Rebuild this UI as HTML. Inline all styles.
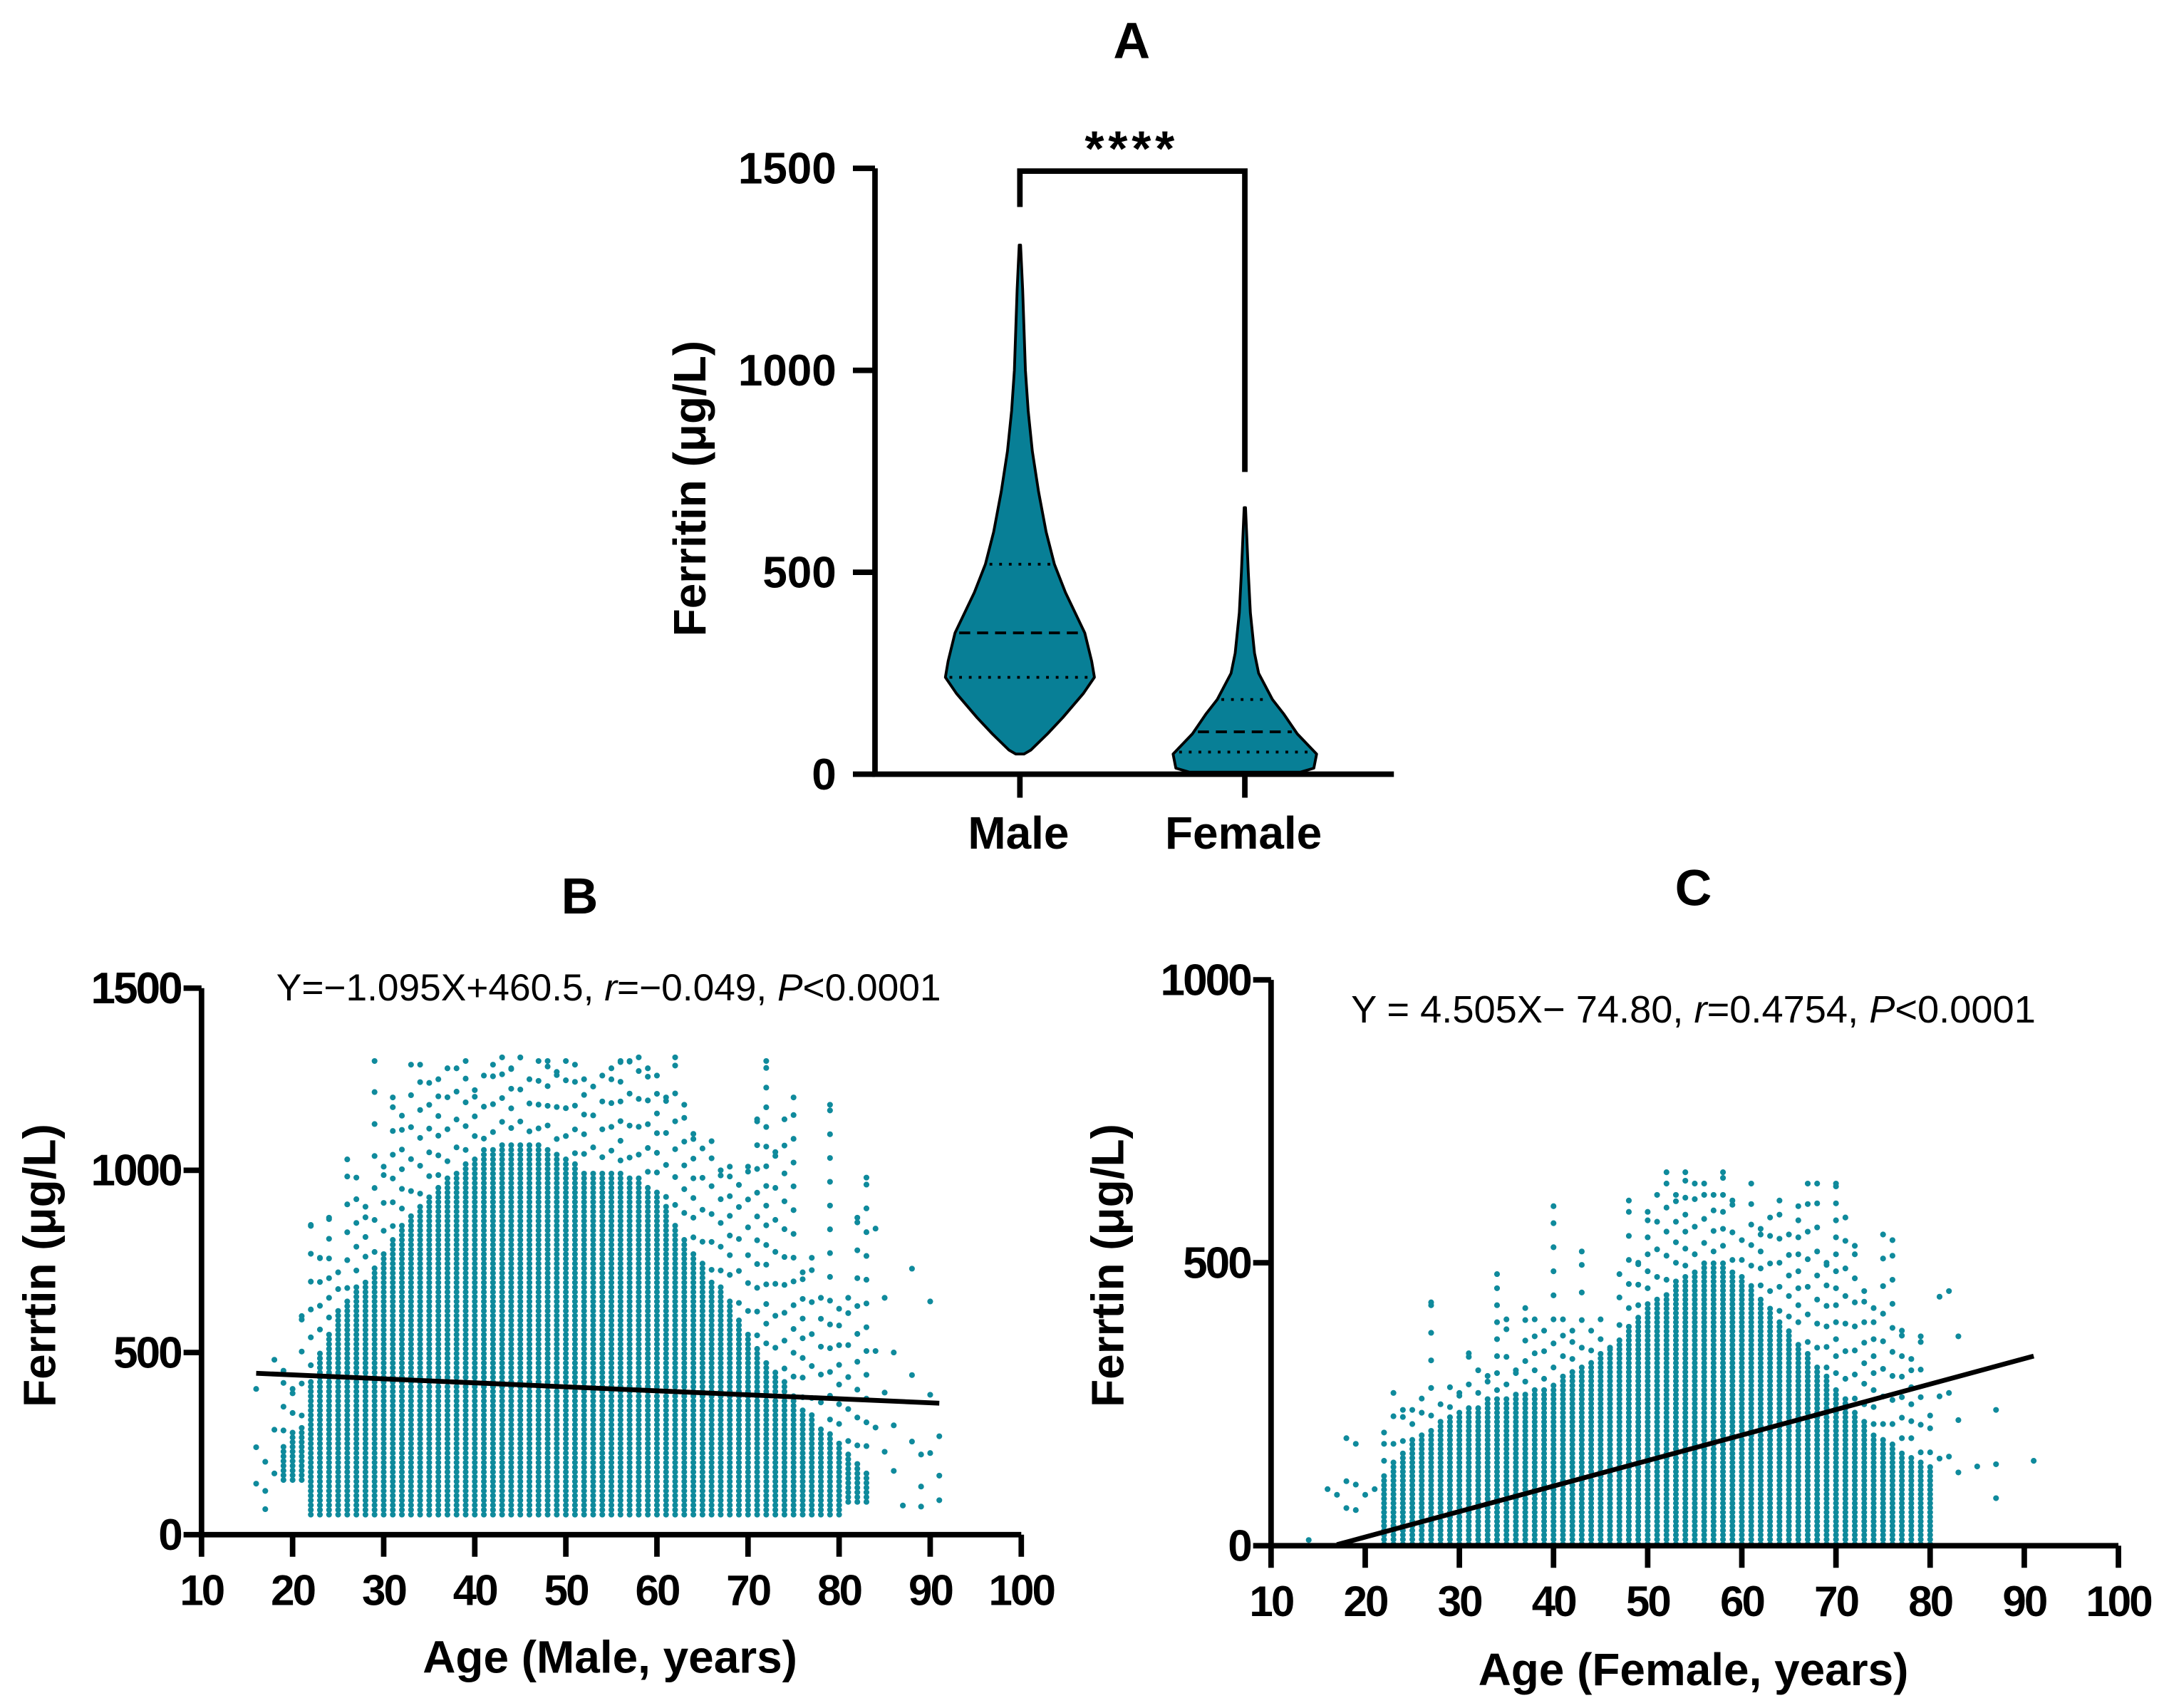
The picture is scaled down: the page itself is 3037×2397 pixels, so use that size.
<!DOCTYPE html>
<html><head><meta charset="utf-8"><style>
html,body{margin:0;padding:0;background:#fff}
svg{display:block}
text{font-family:"Liberation Sans",Arial,sans-serif}
.b{font-weight:bold}
</style></head><body>
<svg id="fig" width="3037" height="2397" viewBox="0 0 1568 1237.6">
<g id="pA"></g>
<g id="pB"></g>
<g id="pC"></g>
</svg>
<script>
// ---- Panel A data ----
const groupNames = ["Male", "Female"];
const maleLevels = [50, 60, 100, 140, 200, 240, 280, 350, 400, 450, 520, 600, 700, 800, 900, 1000, 1100, 1200, 1310];
const maleHalfW  = [3, 8, 20, 31, 46, 54, 52, 47, 40, 33, 25, 19, 13.5, 9, 6, 4, 3, 2, 0.5];
const femaleLevels = [5, 15, 50, 100, 150, 185, 250, 300, 400, 500, 660];
const femaleHalfW  = [40, 50, 52, 38, 28, 20, 10, 7, 4, 2.5, 0.5];
const maleQuart = [240, 350, 520];
const femaleQuart = [55, 105, 185];
const aTicks = [0, 500, 1000, 1500];
// ---- Panel B data (male) ----
const maleAges = [16,17,18,19,20,21,22,23,24,25,26,27,28,29,30,31,32,33,34,35,36,37,38,39,40,41,42,43,44,45,46,47,48,49,50,51,52,53,54,55,56,57,58,59,60,61,62,63,64,65,66,67,68,69,70,71,72,73,74,75,76,77,78,79,80,81,82,83,84,85,86,87,88,89,90,91];
const maleDenseHi = [0,0,0,250,280,300,420,500,560,620,650,680,700,740,780,820,850,880,900,930,960,980,1000,1020,1040,1060,1060,1070,1080,1080,1080,1070,1060,1050,1040,1020,1000,1000,1000,1000,1000,990,980,960,940,900,860,820,780,750,700,680,650,600,560,520,480,450,420,380,350,330,300,280,250,230,200,180,0,0,0,0,0,0,0,0];
const maleMax = [400,200,480,450,400,600,850,760,870,720,1030,980,900,1300,1010,1200,1150,1290,1290,1240,1250,1280,1280,1300,1220,1260,1290,1310,1280,1310,1250,1300,1300,1270,1300,1290,1250,1230,1260,1280,1300,1300,1310,1280,1260,1200,1310,1180,1100,1060,1080,1000,1010,960,1010,1140,1300,1050,1140,1200,720,760,650,1180,620,650,870,980,840,650,500,80,730,220,640,270];
const maleLoDefault = 55;
const maleFit = {slope: -1.095, intercept: 460.5, x0: 16, x1: 91};
const bYTicks = [0, 500, 1000, 1500];
const xTicks = [10,20,30,40,50,60,70,80,90,100];
// ---- Panel C data (female) ----
const femAges = [14,15,16,17,18,19,20,21,22,23,24,25,26,27,28,29,30,31,32,33,34,35,36,37,38,39,40,41,42,43,44,45,46,47,48,49,50,51,52,53,54,55,56,57,58,59,60,61,62,63,64,65,66,67,68,69,70,71,72,73,74,75,76,77,78,79,80,81,82,83,84,85,86,87,88,89,90,91];
const femDenseHi = [0,0,0,0,0,0,0,0,130,150,170,190,200,210,220,230,240,250,250,260,260,260,270,270,280,280,290,300,310,320,330,340,350,370,390,410,430,440,450,470,480,490,500,500,500,490,480,460,440,420,400,380,360,340,320,300,280,260,240,220,200,190,180,170,160,150,140,0,0,0,0,0,0,0,0,0,0,0];
const femMax = [10,0,100,90,190,180,90,100,200,270,240,240,260,430,250,280,270,340,310,300,480,400,310,420,400,380,600,400,380,520,380,400,350,480,610,500,590,620,660,620,660,640,640,620,660,610,540,640,560,580,610,550,600,640,640,500,640,580,530,450,420,550,540,380,330,370,230,440,450,370,0,140,0,240,0,0,0,150];
const femFit = {slope: 4.505, intercept: -74.8, x0: 17, x1: 91};
const cYTicks = [0, 500, 1000];

const NS = "http://www.w3.org/2000/svg";
function mk(parent, tag, attrs, txt){
  const e = document.createElementNS(NS, tag);
  for (const k in attrs) e.setAttribute(k, attrs[k]);
  if (txt !== undefined) e.textContent = txt;
  parent.appendChild(e); return e;
}
const TEAL = "#0f8a9c", VIOL = "#087f96";

// ---------- Panel A ----------
(function(){
  const g = document.getElementById("pA");
  const ax0 = 634, ax1 = 1010, y0 = 561, y1 = 122;
  const ya = v => y0 - v * (y0 - y1) / 1500;
  const xs = [739, 902];
  let t = mk(g, "text", {x: 820, y: 42, "text-anchor": "middle", "font-size": 37, class: "b"}, "A");
   
  t = mk(g, "text", {x: 820, y: 120, "text-anchor": "middle", "font-size": 36, class: "b", "letter-spacing": "3"}, "****");
   
  let br = mk(g, "path", {d: `M${xs[0]} 150 V124 H${xs[1]} V342`, fill: "none", stroke: "#000", "stroke-width": 4});
   
  function violin(cx, lv, hw, q, name){
    let right = lv.map((v, i) => `${cx + hw[i]},${ya(v)}`);
    let left = lv.map((v, i) => `${cx - hw[i]},${ya(v)}`).reverse();
    const p = mk(g, "polygon", {points: right.concat(left).join(" "), fill: VIOL, stroke: "#000", "stroke-width": 2, "stroke-linejoin": "round"});
     
    function hwAt(v){ for (let i = 1; i < lv.length; i++) if (v <= lv[i]) { const f = (v - lv[i-1]) / (lv[i] - lv[i-1]); return hw[i-1] + f * (hw[i] - hw[i-1]); } return 0; }
    q.forEach((v, i) => {
      const w = hwAt(v) - 3;
      const l = mk(g, "line", {x1: cx - w, x2: cx + w, y1: ya(v), y2: ya(v), stroke: "#000", "stroke-width": 2, "stroke-dasharray": i === 1 ? "8 5" : "2 5"});
       
    });
  }
  violin(xs[0], maleLevels, maleHalfW, maleQuart, "male");
  violin(xs[1], femaleLevels, femaleHalfW, femaleQuart, "female");
  let ax = mk(g, "path", {d: `M${ax0} ${y1} V${y0} H${ax1}`, fill: "none", stroke: "#000", "stroke-width": 4});
   
  aTicks.forEach(v => {
    const l = mk(g, "line", {x1: ax0 - 16, x2: ax0, y1: ya(v), y2: ya(v), stroke: "#000", "stroke-width": 4});
     
    const tt = mk(g, "text", {x: ax0 - 28, y: ya(v) + 11, "text-anchor": "end", "font-size": 32, class: "b"}, String(v));
     
  });
  groupNames.forEach((n, i) => {
    const l = mk(g, "line", {x1: xs[i], x2: xs[i], y1: y0, y2: y0 + 17, stroke: "#000", "stroke-width": 4});
     
    const tt = mk(g, "text", {x: xs[i] - 1, y: 615, "text-anchor": "middle", "font-size": 33, class: "b"}, n);
     
  });
  t = mk(g, "text", {transform: "translate(511 354) rotate(-90)", "text-anchor": "middle", "font-size": 33, class: "b"}, "Ferritin (μg/L)");
   
})();

// ---------- Scatter helper ----------
function scatter(gid, cfg){
  const g = document.getElementById(gid);
  const xa = a => cfg.ax0 + (a - 10) * (cfg.ax1 - cfg.ax0) / 90;
  const ya = v => cfg.y0 - v * (cfg.y0 - cfg.yTop) / cfg.yMax;
  let t = mk(g, "text", {x: cfg.lx, y: cfg.ly, "text-anchor": "middle", "font-size": 37, class: "b"}, cfg.letter);
   
  t = mk(g, "text", {x: cfg.ex, y: cfg.ey, "text-anchor": "middle", "font-size": cfg.efs});
   
  t.innerHTML = cfg.eq;
  const dots = mk(g, "g", {fill: TEAL});
   
  cfg.ages.forEach((a, i) => {
    const lo = cfg.lo(a), hi = cfg.hi[i], mx = cfg.max[i];
    const cx = xa(a);
    let d = "";
    const r = 2.1;
    const add = v => { const cy = ya(v); d += `M${cx - r} ${cy}a${r} ${r} 0 1 0 ${2*r} 0a${r} ${r} 0 1 0 ${-2*r} 0`; };
    if (hi > 0) {
      for (let v = lo; v <= hi; v += cfg.step) add(v);
      const off = ((i * 7) % 5) / 5;
      for (let v = hi + cfg.sparse * (0.6 + off); v < mx; v += cfg.sparse * (1.2 + ((i * 3) % 4) * 0.25)) add(v);
      add(mx);
    } else if (mx > 0) {
      add(mx);
      if (mx > 150) { add(mx * 0.6); add(mx * 0.35); }
    }
    if (d) mk(dots, "path", {d: d});
  });
  const f = cfg.fit;
  let ln = mk(g, "line", {x1: xa(f.x0), y1: ya(f.slope * f.x0 + f.intercept), x2: xa(f.x1), y2: ya(f.slope * f.x1 + f.intercept), stroke: "#000", "stroke-width": 3.5});
   
  let ax = mk(g, "path", {d: `M${cfg.ax0} ${cfg.yTop} V${cfg.y0} H${cfg.ax1}`, fill: "none", stroke: "#000", "stroke-width": 4});
   
  cfg.yTicks.forEach(v => {
    const l = mk(g, "line", {x1: cfg.ax0 - 13, x2: cfg.ax0, y1: ya(v), y2: ya(v), stroke: "#000", "stroke-width": 4});
     
    const tt = mk(g, "text", {x: cfg.ax0 - 15, y: ya(v) + 11, "text-anchor": "end", "font-size": 32, class: "b", "letter-spacing": "-1.5"}, String(v));
     
  });
  xTicks.forEach(v => {
    const l = mk(g, "line", {x1: xa(v), x2: xa(v), y1: cfg.y0, y2: cfg.y0 + 16, stroke: "#000", "stroke-width": 4});
     
    const tt = mk(g, "text", {x: xa(v), y: cfg.y0 + 51, "text-anchor": "middle", "font-size": 31, class: "b", "letter-spacing": "-1.5"}, String(v));
     
  });
  t = mk(g, "text", {x: cfg.xtx, y: cfg.xty, "text-anchor": "middle", "font-size": 33, class: "b"}, cfg.xTitle);
   
  t = mk(g, "text", {transform: `translate(${cfg.ytx} 917) rotate(-90)`, "text-anchor": "middle", "font-size": 33, class: "b"}, "Ferrtin (μg/L)");
   
}

scatter("pB", {ax0: 146, ax1: 740, y0: 1112, yTop: 716, yMax: 1500, letter: "B", lx: 420, ly: 662,
  ex: 441, ey: 725, efs: 27.5, eq: 'Y=−1.095X+460.5, <tspan font-style="italic">r</tspan>=−0.049, <tspan font-style="italic">P</tspan>&lt;0.0001',
  ages: maleAges, hi: maleDenseHi, max: maleMax, lo: a => (a < 22 ? 150 : (a > 80 ? 90 : maleLoDefault)),
  step: 13, sparse: 45, fit: maleFit, yTicks: bYTicks, xTitle: "Age (Male, years)", xtx: 442, xty: 1212, ytx: 40});
scatter("pC", {ax0: 921, ax1: 1535, y0: 1120, yTop: 710, yMax: 1000, letter: "C", lx: 1227, ly: 656,
  ex: 1227, ey: 741, efs: 28, eq: 'Y = 4.505X− 74.80, <tspan font-style="italic">r</tspan>=0.4754, <tspan font-style="italic">P</tspan>&lt;0.0001',
  ages: femAges, hi: femDenseHi, max: femMax, lo: a => 3,
  step: 8, sparse: 25, fit: femFit, yTicks: cYTicks, xTitle: "Age (Female, years)", xtx: 1227, xty: 1221, ytx: 814});
</script>
</body></html>
